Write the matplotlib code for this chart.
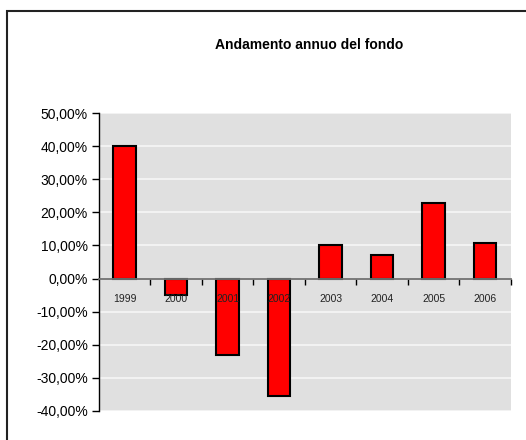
import matplotlib
matplotlib.use('Agg')
import matplotlib.pyplot as plt
import matplotlib.patches as patches
import numpy as np

plt.rcParams['font.family'] = ['Liberation Sans', 'DejaVu Sans']

# data
anni = ['1999', '2000', '2001', '2002', '2003', '2004', '2005', '2006']
rendimenti = [40.0, -4.9, -23.1, -35.4, 10.2, 7.2, 22.9, 10.8]
y_ticks = [-40, -30, -20, -10, 0, 10, 20, 30, 40, 50]
titolo = 'Andamento annuo del fondo'

fig = plt.figure(figsize=(5.26, 4.4), dpi=100)
ax = fig.add_axes([0.188, 0.066, 0.783, 0.677])

# outer chart frame (runs off the right and bottom edges)
frame = patches.Rectangle((7 / 526, -0.1), 1.2, 1 - 11 / 440 + 0.1,
                          transform=fig.transFigure, fill=False,
                          edgecolor='#222222', lw=1.5, clip_on=False)
fig.patches.append(frame)

ax.set_facecolor('#e0e0e0')
x = np.arange(len(anni))
ax.bar(x, rendimenti, width=0.44, color='#ff0000', edgecolor='black',
       lw=1.5, zorder=3)

ax.set_xlim(-0.5, len(anni) - 0.5)
ax.set_ylim(-40, 50)
ax.set_yticks(y_ticks)
ax.set_yticklabels(['{:.2f}%'.format(v).replace('.', ',') for v in y_ticks],
                   fontsize=10)
ax.tick_params(axis='y', direction='out', length=5, width=1, pad=3,
               colors='black')
for v in y_ticks:
    ax.axhline(v, color='#f4f4f4', lw=1.3, zorder=1)

# category axis sits on the zero line
ax.spines['bottom'].set_position(('data', 0))
ax.spines['bottom'].set_color('#707070')
ax.spines['bottom'].set_linewidth(1.3)
ax.spines['bottom'].set_zorder(4)
ax.spines['top'].set_visible(False)
ax.spines['right'].set_visible(False)
ax.spines['left'].set_color('black')
ax.spines['left'].set_linewidth(1)
ax.set_xticks(np.arange(len(anni)) + 0.5)
ax.set_xticklabels([])
ax.tick_params(axis='x', direction='out', length=4, width=1, colors='black')

for i, a in enumerate(anni):
    ax.annotate(a, xy=(i, 0), xytext=(0, -15), textcoords='offset points',
                ha='center', va='center', fontsize=7.5, color='#222222',
                zorder=5)

fig.text(0.587, 0.898, titolo, ha='center', va='center', fontsize=10,
         fontweight='bold')

fig.savefig('out.png', dpi=100)
